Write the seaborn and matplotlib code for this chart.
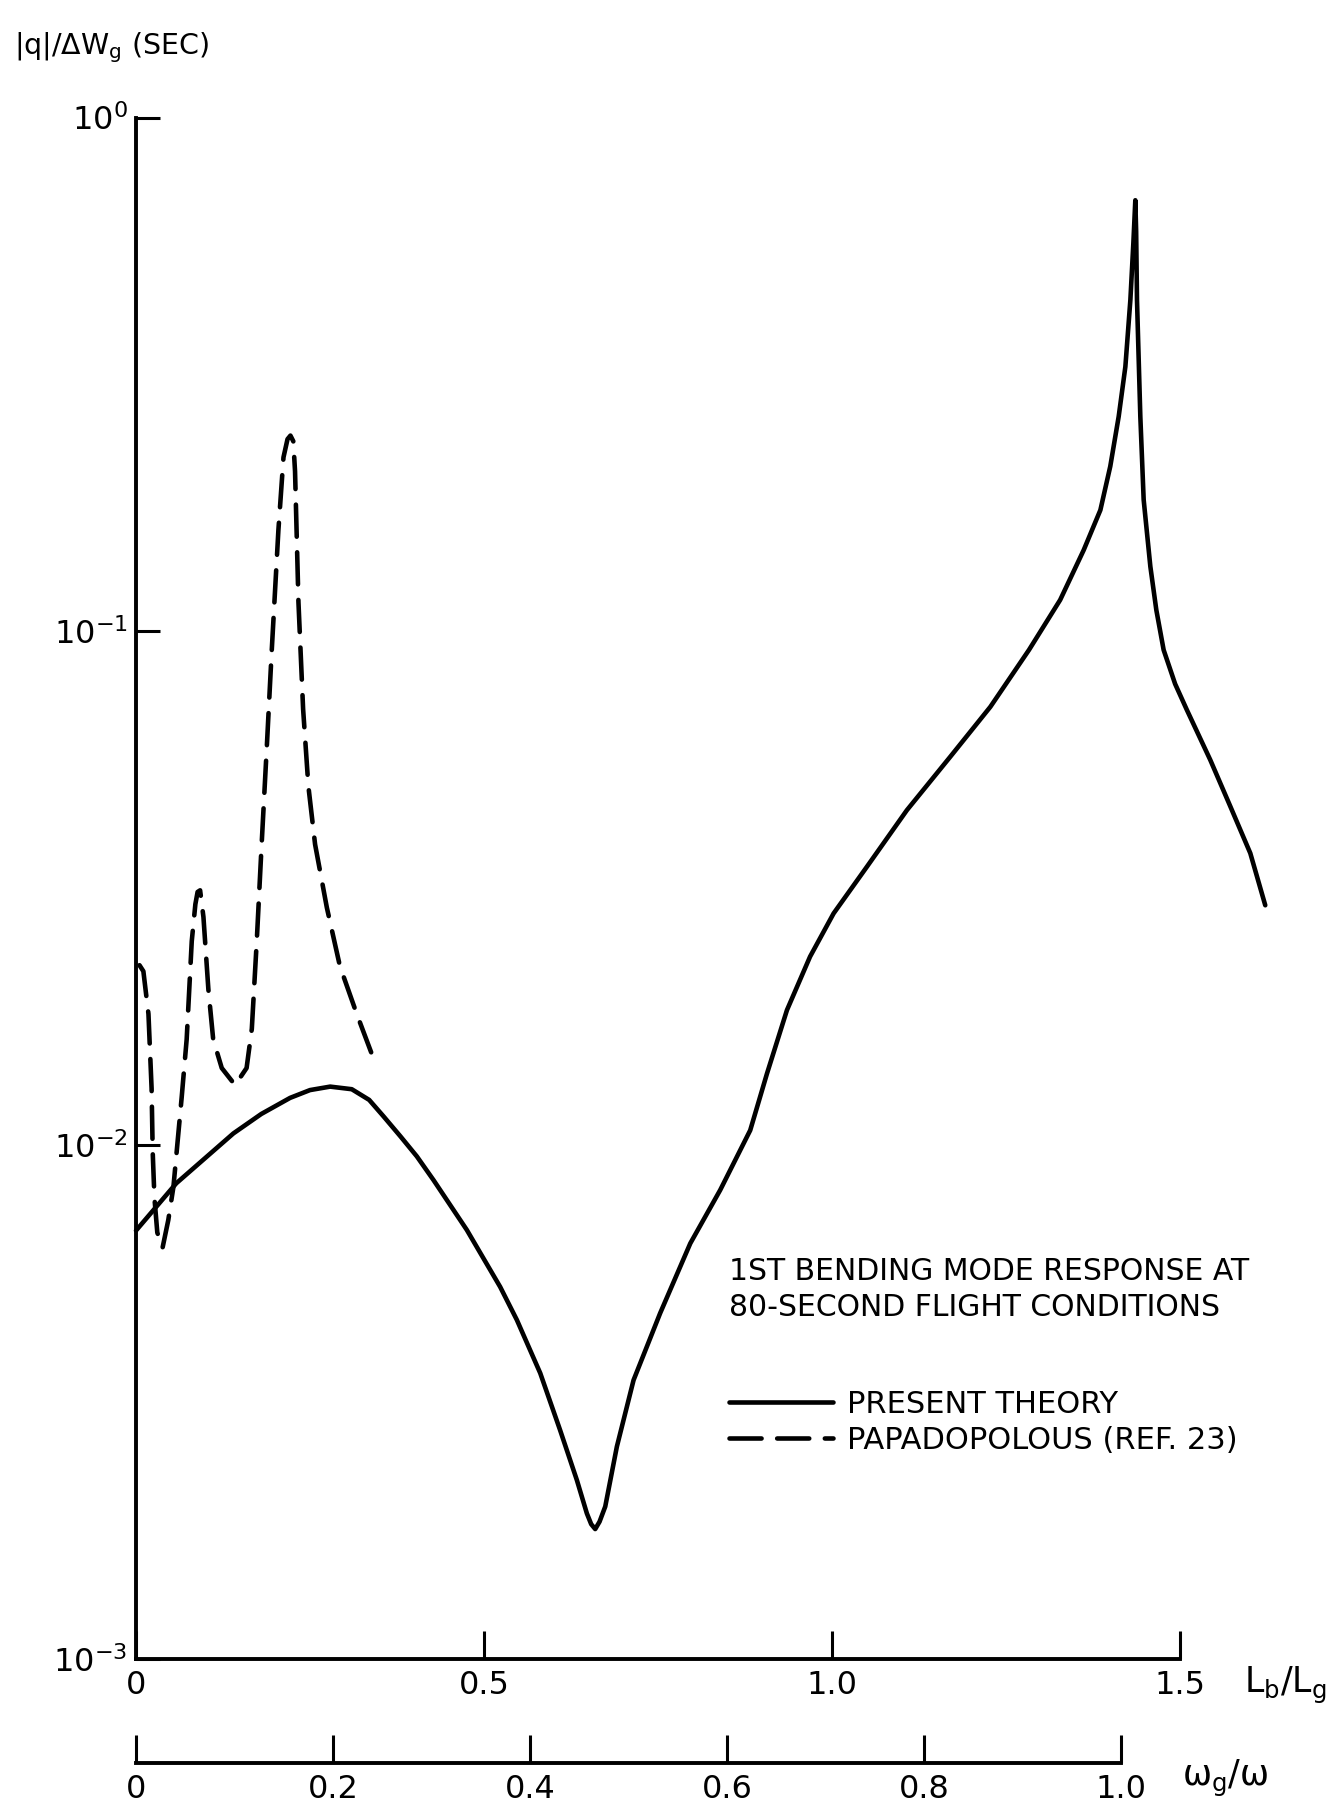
import numpy as np
import pandas as pd
import matplotlib
matplotlib.use("Agg")
import matplotlib.pyplot as plt
from matplotlib import font_manager
from matplotlib.ticker import NullLocator, FixedLocator, FixedFormatter
import seaborn as sns

# ---------------- data ----------------
# Present theory (solid): x = L_b/L_g, y = |q|/dW_g (sec)
theory_x = [0.0, 0.0579, 0.1399, 0.1800, 0.2214, 0.2500, 0.2790, 0.3100, 0.3350,
            0.3556, 0.3800, 0.4035, 0.4275, 0.4753, 0.5232, 0.5472, 0.5808, 0.6093,
            0.6334, 0.6478, 0.6540, 0.6598, 0.6660, 0.6742, 0.6909, 0.7149, 0.7531,
            0.7964, 0.8394, 0.8825, 0.9065, 0.9353, 0.9685, 1.0023, 1.0502, 1.1076,
            1.1700, 1.2275, 1.2831, 1.3278, 1.3616, 1.3856, 1.3998, 1.4119, 1.4215,
            1.4287, 1.4330, 1.4358, 1.4370, 1.4382, 1.4430, 1.4478, 1.4574, 1.4660,
            1.4765, 1.4930, 1.5099, 1.5435, 1.5724, 1.6010, 1.6225]
theory_y = [0.00682, 0.00843, 0.01054, 0.01150, 0.01236, 0.01280, 0.01300, 0.01285,
            0.01225, 0.01138, 0.01040, 0.00951, 0.00855, 0.00684, 0.00530, 0.00457,
            0.00360, 0.00279, 0.00223, 0.00192, 0.00183, 0.00179, 0.00185, 0.00198,
            0.00259, 0.00349, 0.00471, 0.00644, 0.00818, 0.01069, 0.01377, 0.01832,
            0.02328, 0.02825, 0.03483, 0.04487, 0.05702, 0.07129, 0.09204, 0.1151,
            0.1439, 0.1722, 0.2094, 0.2618, 0.3273, 0.4416, 0.5700, 0.6902, 0.6000,
            0.4416, 0.2618, 0.1803, 0.1337, 0.1100, 0.0920, 0.0790, 0.0703, 0.0562,
            0.0456, 0.0370, 0.0293]

# Papadopolous (Ref. 23) (dashed)
papa_x = [0.0050, 0.0106, 0.0179, 0.0224, 0.0240, 0.0265, 0.0306, 0.0381, 0.0464,
          0.0538, 0.0657, 0.0728, 0.0801, 0.0853, 0.0885, 0.0921, 0.0969, 0.1040,
          0.1109, 0.1232, 0.1424, 0.1589, 0.1664, 0.1735, 0.1805, 0.1879, 0.1950,
          0.2046, 0.2119, 0.2177, 0.2219, 0.2260, 0.2285, 0.2334, 0.2401, 0.2477,
          0.2573, 0.2742, 0.2930, 0.3172, 0.3411]
papa_y = [0.0224, 0.0218, 0.0180, 0.0129, 0.00970, 0.00789, 0.00676, 0.00631, 0.00715,
          0.00830, 0.01242, 0.01607, 0.02494, 0.02944, 0.03110, 0.03133, 0.02780,
          0.02009, 0.01607, 0.01413, 0.01309, 0.01413, 0.01684, 0.02494, 0.03846,
          0.05942, 0.09162, 0.1574, 0.2181, 0.2366, 0.2404, 0.2344, 0.2049, 0.1140,
          0.0706, 0.0499, 0.0385, 0.0290, 0.0223, 0.0180, 0.01476]

series_labels = ["PRESENT THEORY", "PAPADOPOLOUS (REF. 23)"]

y_ticks = [1e-3, 1e-2, 1e-1, 1e0]
y_tick_labels = [r"$\mathregular{10^{-3}}$", r"$\mathregular{10^{-2}}$",
                 r"$\mathregular{10^{-1}}$", r"$\mathregular{10^{0}}$"]
x_ticks = [0.0, 0.5, 1.0, 1.5]
x_tick_labels = ["0", "0.5", "1.0", "1.5"]
w_ticks = [0.0, 0.2, 0.4, 0.6, 0.8, 1.0]
w_tick_labels = ["0", "0.2", "0.4", "0.6", "0.8", "1.0"]

note_lines = ["1ST BENDING MODE RESPONSE AT", "80-SECOND FLIGHT CONDITIONS"]

# ---------------- styling ----------------
sns.set_style("ticks")
names = {f.name for f in font_manager.fontManager.ttflist}
FONT = "Liberation Sans Narrow" if "Liberation Sans Narrow" in names else "DejaVu Sans"
plt.rcParams["font.family"] = [FONT, "DejaVu Sans"]
plt.rcParams["mathtext.fontset"] = "custom"
plt.rcParams["mathtext.rm"] = FONT
plt.rcParams["mathtext.it"] = FONT
plt.rcParams["text.color"] = "black"

W, H = 1333, 1807
fig = plt.figure(figsize=(W / 100, H / 100), dpi=100)

x0_px, x15_px = 136, 1180
y_top_px, y_bot_px = 117.5, 1659
px_per_unit = (x15_px - x0_px) / 1.5
xmax = 1.7
ax = fig.add_axes([x0_px / W, 1 - y_bot_px / H, xmax * px_per_unit / W,
                   (y_bot_px - y_top_px) / H])
ax.patch.set_alpha(0)

df_t = pd.DataFrame({"x": theory_x, "y": theory_y})
df_p = pd.DataFrame({"x": papa_x, "y": papa_y})
LW = 3.3
sns.lineplot(data=df_t, x="x", y="y", ax=ax, color="black", lw=LW, sort=False,
             estimator=None, label=series_labels[0], solid_capstyle="round",
             solid_joinstyle="round", clip_on=False)
sns.lineplot(data=df_p, x="x", y="y", ax=ax, color="black", lw=LW, sort=False,
             estimator=None, label=series_labels[1], linestyle=(0, (7, 3.4)),
             dash_capstyle="round", clip_on=False)

ax.set_yscale("log")
ax.set_ylim(1e-3, 1e0)
ax.set_xlim(0, xmax)
ax.yaxis.set_major_locator(FixedLocator(y_ticks))
ax.yaxis.set_major_formatter(FixedFormatter(y_tick_labels))
ax.yaxis.set_minor_locator(NullLocator())
ax.xaxis.set_major_locator(FixedLocator(x_ticks))
ax.xaxis.set_major_formatter(FixedFormatter(x_tick_labels))
ax.xaxis.set_minor_locator(NullLocator())
ax.set_xlabel("")
ax.set_ylabel("")
for s in ["top", "right"]:
    ax.spines[s].set_visible(False)
for s in ["left", "bottom"]:
    ax.spines[s].set_linewidth(2.8)
    ax.spines[s].set_color("black")
ax.spines["bottom"].set_bounds(0, 1.5)
ax.tick_params(axis="y", direction="in", length=17, width=2.2, pad=6,
               labelsize=23, colors="black")
ax.tick_params(axis="x", direction="in", length=20, width=2.2, pad=8,
               labelsize=23, colors="black")

# legend
leg = ax.legend(loc="upper left", bbox_to_anchor=(729 / W, 1 - 1390 / H),
                bbox_transform=fig.transFigure, frameon=False, fontsize=22,
                handlelength=3.4, handletextpad=0.45, labelspacing=0.22,
                borderpad=0, borderaxespad=0)

# annotation
for i, line in enumerate(note_lines):
    fig.text(729 / W, 1 - (1272 + 36 * i) / H, line, fontsize=21.5,
             ha="left", va="center")

# y-axis title
fig.text(14 / W, 1 - 48 / H, r"$\mathregular{|q|/\Delta W_g}$ (SEC)", fontsize=20.5,
         ha="left", va="center")

# upper x-axis label
fig.text(1285 / W, 1 - 1685 / H, r"$\mathregular{L_b/L_g}$", fontsize=25,
         ha="center", va="center")

# lower (omega_g/omega) axis
x10_px = 1121
y_low_px = 1763
ax2 = fig.add_axes([x0_px / W, 1 - y_low_px / H, (x10_px - x0_px) / W, 0.01])
ax2.patch.set_alpha(0)
ax2.set_xlim(0, 1.0)
ax2.set_ylim(0, 1)
for s in ["top", "right", "left"]:
    ax2.spines[s].set_visible(False)
ax2.spines["bottom"].set_linewidth(2.8)
ax2.spines["bottom"].set_color("black")
ax2.set_yticks([])
ax2.xaxis.set_major_locator(FixedLocator(w_ticks))
ax2.xaxis.set_major_formatter(FixedFormatter(w_tick_labels))
ax2.tick_params(axis="x", direction="in", length=20, width=2.2, pad=8,
                labelsize=23, colors="black")
fig.text(1225 / W, 1 - 1778 / H, r"$\mathregular{\omega_g/\omega}$", fontsize=25,
         ha="center", va="center")

fig.savefig("out.png", dpi=100)
